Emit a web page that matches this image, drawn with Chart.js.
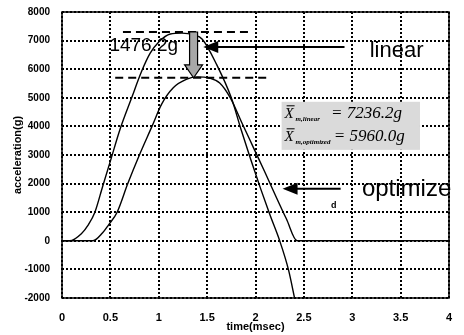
<!DOCTYPE html>
<html>
<head>
<meta charset="utf-8">
<script src="https://cdn.jsdelivr.net/npm/chart.js@4"></script>
<style>
  html, body { margin: 0; padding: 0; background: #fff; }
  #wrap { width: 464px; height: 335px; }
</style>
</head>
<body>
<div id="wrap"><canvas id="accChart" width="464" height="335"></canvas></div>
<script>
// time (msec) / acceleration (g)
const linearT = [0, 0.08, 0.2, 0.27, 0.34, 0.42, 0.51, 0.6, 0.72, 0.82, 0.91, 1.0, 1.12, 1.24, 1.36, 1.45, 1.6, 1.75, 1.85, 1.95, 2.05, 2.15, 2.25, 2.34, 2.41];
const linearG = [0, 0, 250, 550, 1000, 1900, 2900, 3900, 5000, 5900, 6550, 6950, 7230, 7260, 7200, 7050, 6150, 5000, 3900, 2850, 1850, 900, 0, -1000, -2100];
const optT = [0, 0.32, 0.42, 0.48, 0.57, 0.68, 0.8, 0.93, 1.03, 1.15, 1.29, 1.4, 1.52, 1.63, 1.74, 1.86, 1.98, 2.1, 2.21, 2.32, 2.43, 4];
const optG = [0, 0, 280, 550, 1000, 2000, 3000, 4000, 4780, 5350, 5650, 5730, 5690, 5520, 5000, 4120, 3250, 2380, 1560, 760, 0, 0];

const xTicks = [0, 0.5, 1, 1.5, 2, 2.5, 3, 3.5, 4];
const yTicks = [-2000, -1000, 0, 1000, 2000, 3000, 4000, 5000, 6000, 7000, 8000];

const pts = (ts, gs) => ts.map((t, i) => ({ x: t, y: gs[i] }));

// dotted MATLAB-style grid, dots as small squares, under the curves
const dottedGrid = {
  id: 'dottedGrid',
  beforeDatasetsDraw(chart) {
    const { ctx, chartArea: a, scales: { x, y } } = chart;
    ctx.save();
    ctx.fillStyle = '#000';
    xTicks.forEach(v => {
      const p = Math.round(x.getPixelForValue(v)) - 1;
      for (let q = Math.round(a.top); q < a.bottom; q += 4) ctx.fillRect(p, q, 2, 2);
    });
    yTicks.forEach(v => {
      const p = Math.round(y.getPixelForValue(v)) - 1;
      for (let q = Math.round(a.left); q < a.right; q += 4) ctx.fillRect(q, p, 2, 2);
    });
    ctx.restore();
  }
};

// extra marks drawn on top (dashed levels, arrows, labels, formula box)
const overlay = {
  id: 'overlay',
  afterDraw(chart) {
    const { ctx, chartArea: a, scales: { x, y } } = chart;
    const px = v => x.getPixelForValue(v);
    const py = v => y.getPixelForValue(v);

    ctx.save();
    // frame
    ctx.strokeStyle = '#000';
    ctx.lineWidth = 1.5;
    ctx.setLineDash([]);
    ctx.strokeRect(a.left, a.top, a.right - a.left, a.bottom - a.top);

    // dashed peak levels
    ctx.lineWidth = 2;
    ctx.setLineDash([8, 5]);
    ctx.beginPath();
    ctx.moveTo(px(0.63), py(7300)); ctx.lineTo(px(1.97), py(7300));
    ctx.moveTo(px(0.55), py(5700)); ctx.lineTo(px(2.13), py(5700));
    ctx.stroke();
    ctx.setLineDash([]);

    // "1476.2g"
    ctx.fillStyle = '#000';
    ctx.font = '19px "Liberation Sans", Arial, sans-serif';
    ctx.textBaseline = 'alphabetic';
    ctx.textAlign = 'left';
    ctx.fillText('1476.2g', px(0.49), py(6640));

    // gray down arrow
    const cx = px(1.36), y0 = py(7300), y1 = py(5700);
    ctx.beginPath();
    ctx.moveTo(cx - 4, y0);
    ctx.lineTo(cx + 4, y0);
    ctx.lineTo(cx + 4, y1 - 13);
    ctx.lineTo(cx + 9, y1 - 13);
    ctx.lineTo(cx, y1);
    ctx.lineTo(cx - 9, y1 - 13);
    ctx.lineTo(cx - 4, y1 - 13);
    ctx.closePath();
    ctx.fillStyle = '#a8a8a8';
    ctx.fill();
    ctx.lineWidth = 1.2;
    ctx.strokeStyle = '#000';
    ctx.stroke();

    // horizontal pointer arrows
    function pointer(tFrom, tTo, g) {
      const xa = px(tFrom), xb = px(tTo), yy = py(g);
      ctx.lineWidth = 2;
      ctx.beginPath();
      ctx.moveTo(xa, yy); ctx.lineTo(xb + 12, yy);
      ctx.stroke();
      ctx.beginPath();
      ctx.moveTo(xb, yy);
      ctx.lineTo(xb + 15, yy - 6);
      ctx.lineTo(xb + 15, yy + 6);
      ctx.closePath();
      ctx.fillStyle = '#000';
      ctx.fill();
    }
    pointer(2.92, 1.46, 6780);
    pointer(2.88, 2.28, 1820);

    ctx.fillStyle = '#000';
    ctx.font = '22px "Liberation Sans", Arial, sans-serif';
    ctx.fillText('linear', px(3.18), py(6430));
    ctx.font = '24px "Liberation Sans", Arial, sans-serif';
    ctx.fillText('optimize', px(3.1), py(1560));
    ctx.font = 'bold 9px "Liberation Sans", Arial, sans-serif';
    ctx.fillText('d', px(2.78), py(1150));

    // formula box
    const bx = px(2.27), by = py(4860), bw = px(3.7) - bx, bh = py(3180) - by;
    ctx.fillStyle = '#dadada';
    ctx.fillRect(bx, by, bw, bh);

    function formula(sub, val, base, valX) {
      ctx.fillStyle = '#000';
      ctx.font = 'italic 15px "Liberation Serif", "Times New Roman", serif';
      ctx.fillText('X', bx + 3, base);
      ctx.lineWidth = 1;
      ctx.beginPath();
      ctx.moveTo(bx + 5, base - 12); ctx.lineTo(bx + 13, base - 12);
      ctx.stroke();
      ctx.font = 'italic bold 7px "Liberation Serif", "Times New Roman", serif';
      ctx.fillText(sub, bx + 14, base + 3);
      ctx.font = 'italic 17px "Liberation Serif", "Times New Roman", serif';
      ctx.fillText(val, valX, base);
    }
    formula('m,linear', '= 7236.2g', by + 16, px(2.78));
    formula('m,optimized', '= 5960.0g', by + 39, px(2.81));

    ctx.restore();
  }
};

new Chart(document.getElementById('accChart'), {
  type: 'line',
  data: {
    datasets: [
      {
        label: 'linear',
        data: pts(linearT, linearG),
        borderColor: '#000',
        borderWidth: 1.4,
        pointRadius: 0,
        cubicInterpolationMode: 'monotone',
        fill: false,
      },
      {
        label: 'optimize',
        data: pts(optT, optG),
        borderColor: '#000',
        borderWidth: 1.4,
        pointRadius: 0,
        cubicInterpolationMode: 'monotone',
        fill: false,
      },
    ],
  },
  options: {
    responsive: false,
    animation: false,
    events: [],
    layout: { padding: { top: 12, right: 15, left: 0, bottom: 0 } },
    plugins: { legend: { display: false }, tooltip: { enabled: false } },
    scales: {
      x: {
        type: 'linear',
        min: 0, max: 4,
        afterBuildTicks: s => { s.ticks = xTicks.map(v => ({ value: v })); },
        afterFit: s => { s.height = 37; },
        grid: { display: false },
        border: { display: false },
        ticks: {
          color: '#000', padding: 5,
          font: { family: '"Liberation Sans", Arial, sans-serif', size: 11, weight: 'bold' },
          callback: v => String(v),
        },
        title: {
          display: true, text: 'time(msec)', color: '#000',
          padding: { top: 0, bottom: 1 },
          font: { family: '"Liberation Sans", Arial, sans-serif', size: 11, weight: 'bold' },
        },
      },
      y: {
        min: -2000, max: 8000,
        afterBuildTicks: s => { s.ticks = yTicks.map(v => ({ value: v })); },
        afterFit: s => { s.width = 62; },
        grid: { display: false },
        border: { display: false },
        ticks: {
          color: '#000', padding: 4,
          font: { family: '"Liberation Sans", Arial, sans-serif', size: 10, weight: 'bold' },
          callback: v => String(v),
        },
        title: {
          display: true, text: 'acceleration(g)', color: '#000',
          padding: { top: 11, bottom: 0 },
          font: { family: '"Liberation Sans", Arial, sans-serif', size: 11, weight: 'bold' },
        },
      },
    },
  },
  plugins: [dottedGrid, overlay],
});
</script>
</body>
</html>
